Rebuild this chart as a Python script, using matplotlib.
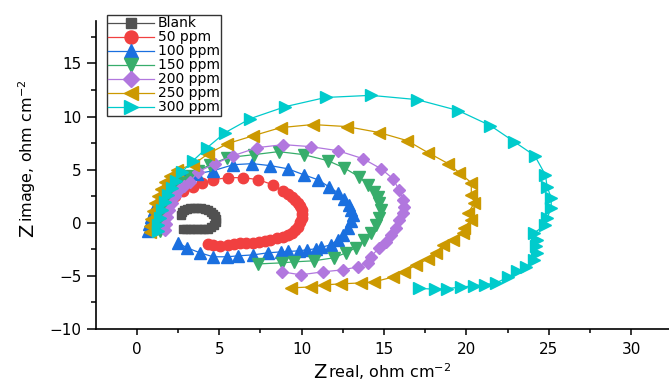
import matplotlib
matplotlib.use('Agg')
import matplotlib.pyplot as plt
from matplotlib.ticker import MultipleLocator

# data (Z real, Z image)
blank_x = [2.7, 2.74, 2.85, 3.02, 3.22, 3.45, 3.68, 3.9, 4.12, 4.32, 4.5, 4.65, 4.76, 4.8, 4.78,
           4.68, 4.52, 4.32, 4.1, 3.88, 3.65, 3.42, 3.2, 2.98, 2.8]
blank_y = [0.75, 1.05, 1.22, 1.32, 1.36, 1.38, 1.38, 1.36, 1.3, 1.2, 1.04, 0.84, 0.6, 0.32, 0.04,
           -0.2, -0.4, -0.54, -0.6, -0.62, -0.62, -0.62, -0.62, -0.62, -0.62]

p50_x = [1.22, 1.28, 1.4, 1.65, 1.95, 2.32, 2.8, 3.41, 3.96, 4.63, 5.55, 6.46, 7.38, 8.25, 8.86,
         9.2, 9.4, 9.6, 9.76, 9.9, 10.0, 10.04, 10.0, 9.9, 9.76, 9.6, 9.4, 9.15, 8.86, 8.5,
         8.1, 7.77, 7.4, 7.04, 6.65, 6.25, 5.9, 5.52, 5.03, 4.6, 4.33]
p50_y = [-0.57, 0.09, 0.75, 1.42, 2.08, 2.55, 3.02, 3.4, 3.77, 4.06, 4.25, 4.25, 4.06, 3.58, 3.0,
         2.7, 2.45, 2.15, 1.89, 1.55, 1.23, 0.85, 0.47, 0.05, -0.38, -0.68, -0.94, -1.15, -1.32, -1.42,
         -1.58, -1.7, -1.8, -1.89, -1.89, -1.89, -2.0, -2.08, -2.17, -2.1, -1.98]

p100_x = [0.67, 0.73, 0.85, 1.04, 1.22, 1.46, 1.83, 2.26, 2.87, 3.66, 4.63, 5.85, 7.01, 8.11, 9.15,
          10.12, 10.98, 11.65, 12.2, 12.56, 12.87, 12.99, 13.11, 12.99, 12.8, 12.5, 12.2, 11.77, 11.2, 10.85,
          10.3, 9.82, 9.2, 8.72, 7.93, 7.07, 6.16, 5.49, 4.63, 3.84, 3.05, 2.5]
p100_y = [-0.75, -0.09, 0.57, 1.23, 1.89, 2.55, 3.2, 3.77, 4.25, 4.62, 4.9, 5.47, 5.57, 5.38, 5.09,
          4.53, 4.06, 3.4, 2.83, 2.26, 1.7, 1.23, 0.75, 0.19, -0.47, -1.13, -1.6, -2.08, -2.3, -2.45,
          -2.55, -2.64, -2.7, -2.74, -2.83, -3.02, -3.11, -3.2, -3.2, -2.83, -2.36, -1.89]

p150_x = [1.4, 1.46, 1.52, 1.65, 1.83, 2.07, 2.38, 2.8, 3.23, 3.72, 4.45, 5.49, 7.13, 8.6, 10.12,
          11.59, 12.56, 13.48, 14.02, 14.39, 14.63, 14.7, 14.82, 14.7, 14.51, 14.2, 13.78, 13.29, 12.68, 11.95,
          10.73, 9.51, 8.84, 7.38]
p150_y = [-0.75, -0.09, 0.57, 1.23, 1.89, 2.55, 3.2, 3.87, 4.43, 4.9, 5.47, 6.13, 6.42, 6.7, 6.42,
          5.85, 5.19, 4.34, 3.58, 2.92, 2.45, 1.89, 1.23, 0.47, -0.19, -0.94, -1.6, -2.36, -2.83, -3.3,
          -3.58, -3.68, -3.77, -3.87]

p200_x = [1.71, 1.77, 1.83, 1.95, 2.13, 2.32, 2.56, 2.87, 3.23, 3.72, 4.76, 5.85, 7.32, 8.9, 10.55,
          12.2, 13.72, 14.82, 15.55, 15.91, 16.16, 16.22, 16.16, 15.91, 15.73, 15.43, 15.12, 14.7, 14.2, 14.02,
          13.41, 12.5, 11.28, 9.94, 8.84]
p200_y = [-0.66, -0.09, 0.57, 1.23, 1.89, 2.55, 3.11, 3.49, 3.87, 4.81, 5.57, 6.32, 7.08, 7.36, 7.17,
          6.79, 6.04, 5.09, 4.15, 3.11, 2.17, 1.5, 0.94, 0.28, -0.47, -1.13, -1.79, -2.36, -3.2, -3.77,
          -4.15, -4.43, -4.62, -4.9, -4.62]

p250_x = [0.79, 0.79, 0.85, 0.98, 1.1, 1.28, 1.46, 1.7, 2.0, 2.44, 3.41, 4.33, 5.49, 7.07, 8.72,
          10.67, 12.74, 14.7, 16.4, 17.68, 18.9, 19.57, 20.3, 20.3, 20.49, 20.12, 20.3, 19.88, 19.82, 19.2,
          18.6, 18.17, 17.68, 16.95, 16.22, 15.55, 14.39, 13.6, 12.38, 11.34, 10.55, 9.33]
p250_y = [-0.85, -0.28, 0.38, 1.13, 1.89, 2.55, 3.2, 3.87, 4.43, 5.0, 5.47, 6.5, 7.45, 8.2, 8.96,
          9.25, 9.06, 8.5, 7.74, 6.6, 5.57, 4.72, 3.77, 2.64, 1.89, 0.94, 0.28, -0.47, -0.94, -1.6,
          -2.08, -2.83, -3.4, -3.96, -4.62, -5.1, -5.57, -5.66, -5.75, -5.85, -6.04, -6.13]

p300_x = [1.28, 1.28, 1.4, 1.52, 1.7, 1.89, 2.13, 2.38, 2.74, 3.41, 4.27, 5.37, 6.89, 9.02, 11.46,
          14.2, 17.0, 19.5, 21.46, 22.9, 24.15, 24.8, 24.9, 25.15, 25.15, 24.9, 24.8, 24.1, 24.3, 24.2,
          24.3, 24.1, 23.6, 23.1, 22.5, 21.8, 21.15, 20.46, 19.7, 18.8, 18.1, 17.14]
p300_y = [-0.75, -0.2, 0.47, 1.23, 2.0, 2.64, 3.3, 3.96, 4.8, 5.85, 7.08, 8.5, 9.81, 10.94, 11.8,
          12.0, 11.6, 10.57, 9.15, 7.64, 6.32, 4.5, 3.4, 2.35, 1.4, 0.44, -0.2, -0.97, -1.6, -2.23,
          -2.85, -3.55, -4.17, -4.58, -5.14, -5.67, -5.83, -5.93, -6.05, -6.2, -6.26, -6.17]

series = [
    ('Blank', blank_x, blank_y, '#515151', 's', 5.8),
    ('50 ppm', p50_x, p50_y, '#F14040', 'o', 7.5),
    ('100 ppm', p100_x, p100_y, '#1A6FDF', '^', 8),
    ('150 ppm', p150_x, p150_y, '#37AD6B', 'v', 8),
    ('200 ppm', p200_x, p200_y, '#B177DE', 'D', 6.5),
    ('250 ppm', p250_x, p250_y, '#CC9900', '<', 8),
    ('300 ppm', p300_x, p300_y, '#00CBCC', '>', 8),
]

fig = plt.figure(figsize=(6.69, 3.83), dpi=100)
ax = fig.add_axes([96 / 669, 1 - 329 / 383, 573 / 669, (329 - 21) / 383])

for name, xs, ys, c, m, ms in series:
    ax.plot(xs, ys, color=c, lw=0.9, marker=m, ms=ms, mec=c, mfc=c, label=name)

ax.set_xlim(-2.48, 32.3)
ax.set_ylim(-10, 19)
ax.spines['top'].set_visible(False)
ax.spines['right'].set_visible(False)
for s in ['left', 'bottom']:
    ax.spines[s].set_linewidth(1.2)
ax.xaxis.set_major_locator(MultipleLocator(5))
ax.xaxis.set_minor_locator(MultipleLocator(2.5))
ax.yaxis.set_major_locator(MultipleLocator(5))
ax.yaxis.set_minor_locator(MultipleLocator(2.5))
ax.tick_params(axis='x', which='major', direction='out', length=4, width=1.1, labelsize=11, pad=5)
ax.tick_params(axis='x', which='minor', direction='out', length=3, width=1.1)
ax.tick_params(axis='y', which='major', direction='out', length=6.5, width=1.1, labelsize=11, pad=4)
ax.tick_params(axis='y', which='minor', direction='out', length=3.5, width=1.1)

# axis titles: big Z followed by smaller text
fig.text(313 / 669, 1 - 378 / 383, 'Z', fontsize=14, ha='left', va='baseline')
fig.text(328 / 669, 1 - 378 / 383, r'real, ohm cm$^{\mathregular{-2}}$', fontsize=11.5,
         ha='left', va='baseline')
fig.text(33 / 669, 1 - 237 / 383, 'Z', fontsize=14, rotation=90, rotation_mode='anchor',
         ha='left', va='baseline')
fig.text(33 / 669, 1 - 222 / 383, r'image, ohm cm$^{\mathregular{-2}}$', fontsize=11.5,
         rotation=90, rotation_mode='anchor', ha='left', va='baseline')

leg = ax.legend(loc='upper left', bbox_to_anchor=(107 / 669, 1 - 15 / 383),
                bbox_transform=fig.transFigure, borderaxespad=0, fontsize=10,
                frameon=True, fancybox=False, edgecolor='black', borderpad=0.1,
                labelspacing=0.0, handlelength=3.3, handletextpad=0.25, markerscale=1.25)
leg.get_frame().set_linewidth(1.0)

fig.savefig('out.png', dpi=100)
